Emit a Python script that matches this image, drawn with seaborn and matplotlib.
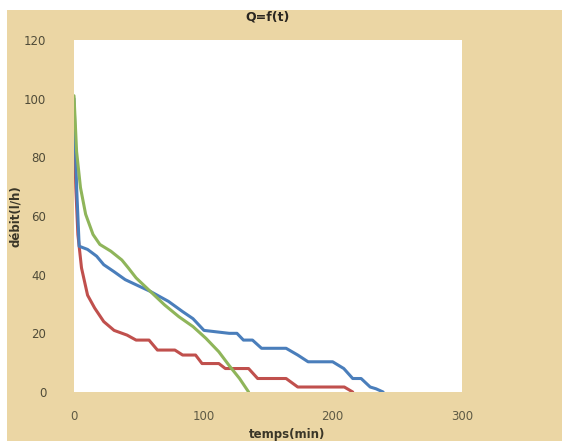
import numpy as np
import pandas as pd
import matplotlib
matplotlib.use("Agg")
import matplotlib.pyplot as plt
import seaborn as sns

# Data
red_t = [0, 1.4, 3, 5.8, 10.5, 16, 23, 31, 41, 48, 58, 64.5, 78, 84, 94, 99, 112, 117, 135, 142, 164, 173, 209, 215.5]
red_q = [92, 69.7, 53.7, 42.3, 33, 28.6, 24, 21, 19.4, 17.7, 17.7, 14.3, 14.3, 12.6, 12.6, 9.7, 9.7, 8, 8, 4.6, 4.6, 1.7, 1.7, 0]

blue_t = [0, 2, 4, 10.5, 17.5, 23, 31, 39.6, 50.7, 59, 73, 84, 92, 100.5, 120, 126, 131, 138, 145, 164, 173, 181, 200, 208.6, 215.5, 222, 229, 233.5, 239]
blue_q = [100, 70, 49.7, 48.6, 46.3, 43.4, 41, 38.3, 36, 34.3, 30.9, 27.4, 25, 21, 20, 20, 17.7, 17.7, 14.9, 14.9, 12.6, 10.3, 10.3, 8, 4.6, 4.6, 1.7, 1.1, 0]

green_t = [0, 2, 5, 9, 14.7, 20, 28.5, 37, 42, 48, 59, 70, 81, 92, 102, 112, 120, 128, 135]
green_q = [101, 82, 69.7, 60.6, 53.7, 50.3, 48, 45, 42.3, 38.9, 34.3, 29.7, 25.7, 22.3, 18.3, 13.7, 9, 4.6, 0]

x_ticks = [0, 100, 200, 300]
y_ticks = [0, 20, 40, 60, 80, 100, 120]

df = pd.concat([
    pd.DataFrame({"t": red_t, "q": red_q, "s": "red"}),
    pd.DataFrame({"t": blue_t, "q": blue_q, "s": "blue"}),
    pd.DataFrame({"t": green_t, "q": green_q, "s": "green"}),
], ignore_index=True)

sns.set_theme(style="white")
plt.rcParams['font.family'] = ['DejaVu Sans']

fig = plt.figure(figsize=(5.62, 4.41), dpi=100, facecolor="white")
bg = fig.add_axes([7/562, 0, 1 - 7/562, 1 - 10/441], zorder=-5)
bg.set_facecolor("#EBD6A4")
bg.set_xticks([])
bg.set_yticks([])
for s in bg.spines.values():
    s.set_visible(False)

ax = fig.add_axes([74/562, 1 - 392/441, (462 - 74)/562, (392 - 40)/441], zorder=1)
ax.set_facecolor("white")

palette = {"red": "#C0504D", "blue": "#4A7EBB", "green": "#8FB55A"}
sns.lineplot(data=df, x="t", y="q", hue="s", palette=palette, sort=False,
             estimator=None, linewidth=2.2, legend=False, ax=ax)

ax.set_xlim(0, 300)
ax.set_ylim(0, 120)
ax.set_xticks(x_ticks)
ax.set_yticks(y_ticks)
for s in ax.spines.values():
    s.set_visible(False)
ax.tick_params(axis="x", length=0, pad=13, labelsize=8.5, labelcolor="#5e5a45")
ax.tick_params(axis="y", length=0, pad=20, labelsize=8.5, labelcolor="#4f4b38")
ax.set_xlabel("temps(min)", fontsize=8.5, fontweight="bold", color="#3a3628")
ax.xaxis.set_label_coords((287 - 74) / 388, (392 - 428) / 352)
ax.set_ylabel("débit(l/h)", fontsize=8.5, fontweight="bold", color="#3a3628")
ax.yaxis.set_label_coords((22 - 74) / 388, 0.5)
ax.set_title("Q=f(t)", fontsize=9, fontweight="bold", color="#2a2620", pad=14)

fig.savefig("out.png", dpi=100, facecolor=fig.get_facecolor())
